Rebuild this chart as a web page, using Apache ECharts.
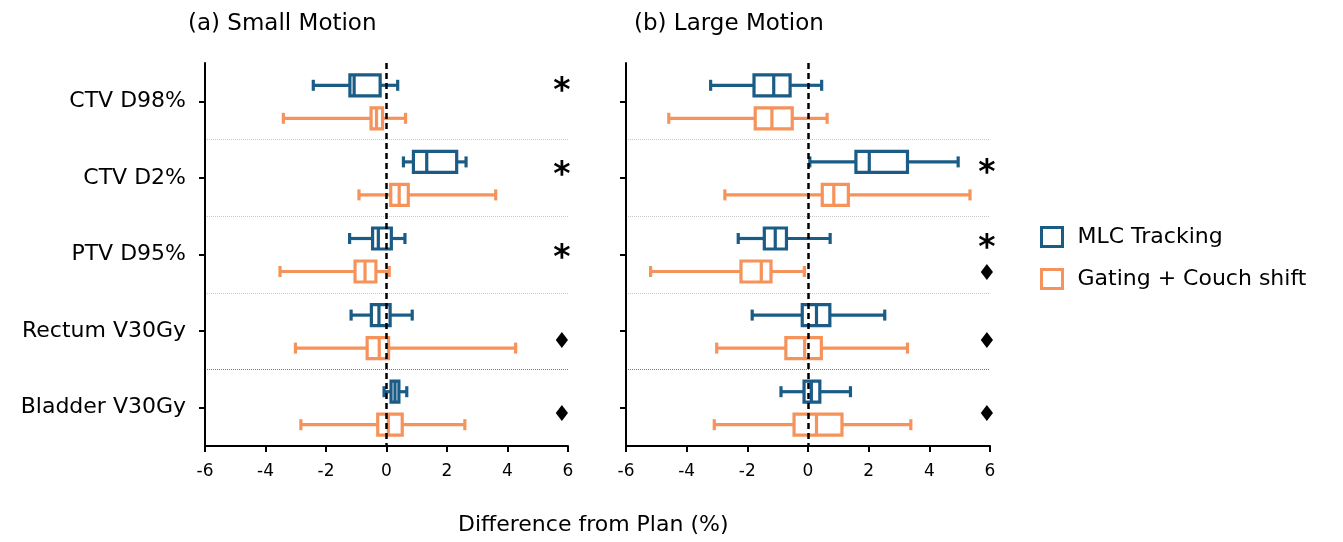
<!DOCTYPE html>
<html><head><meta charset="utf-8">
<script src="https://cdn.jsdelivr.net/npm/echarts@6/dist/echarts.min.js"></script>
<style>html,body{margin:0;padding:0;background:#fff}#c{width:1343px;height:542px}</style>
</head><body><div id="c"></div><script>
// ---------- data ----------
const categories = ['CTV D98%', 'CTV D2%', 'PTV D95%', 'Rectum V30Gy', 'Bladder V30Gy'];
const panelTitles = ['(a) Small Motion', '(b) Large Motion'];
const seriesNames = ['MLC Tracking', 'Gating + Couch shift'];
const xAxisTitle = 'Difference from Plan (%)';
// each row: [min, Q1, median, Q3, max]
const smallMLC = [
  [-2.42, -1.21, -1.07, -0.21, 0.37],
  [0.56, 0.89, 1.33, 2.32, 2.63],
  [-1.22, -0.46, -0.27, 0.16, 0.61],
  [-1.17, -0.50, -0.25, 0.12, 0.85],
  [-0.08, 0.15, 0.28, 0.41, 0.67]
];
const smallGating = [
  [-3.41, -0.51, -0.33, -0.13, 0.63],
  [-0.91, 0.14, 0.42, 0.72, 3.61],
  [-3.52, -1.04, -0.71, -0.35, 0.09],
  [-3.01, -0.64, -0.24, 0.07, 4.27],
  [-2.83, -0.29, 0.06, 0.52, 2.59]
];
const largeMLC = [
  [-3.21, -1.78, -1.13, -0.59, 0.45],
  [0.06, 1.58, 2.02, 3.28, 4.95],
  [-2.30, -1.44, -1.08, -0.71, 0.73],
  [-1.84, -0.19, 0.28, 0.72, 2.53],
  [-0.89, -0.13, 0.11, 0.39, 1.40]
];
const largeGating = [
  [-4.59, -1.74, -1.19, -0.52, 0.63],
  [-2.74, 0.47, 0.85, 1.33, 5.34],
  [-5.19, -2.21, -1.54, -1.22, -0.12],
  [-3.01, -0.73, -0.11, 0.44, 3.28],
  [-3.09, -0.46, 0.28, 1.12, 3.39]
];
// significance markers: [category index, symbol]
const sigSmall = [[0, '*'], [1, '*'], [2, '*'], [3, '♦'], [4, '♦']];
const sigLarge = [[1, '*'], [2, '*'], [2, '♦'], [3, '♦'], [4, '♦']];

// ---------- layout / style ----------
const FONT = 'DejaVu Sans';
const BLUE = '#1a5c85';
const ORANGE = '#f5935b';
const sigSmallDy = [-16, -8, -2, 8, 5];
const sigLargeDy = [-10, -12, 17, 8, 5];
const markerX = 5.8;

function boxRenderer(color, offset) {
  return function (params, api) {
    const cat = api.value(0);
    const px = (v) => api.coord([v, cat])[0];
    const yc = api.coord([0, cat])[1] + offset;
    const xMin = px(api.value(1)), xQ1 = px(api.value(2)), xMed = px(api.value(3)),
          xQ3 = px(api.value(4)), xMax = px(api.value(5));
    const hb = 10.5, hc = 5.5;
    const ls = { stroke: color, lineWidth: 3.2, fill: null };
    return { type: 'group', children: [
      { type: 'line', shape: { x1: xMin, y1: yc, x2: xQ1, y2: yc }, style: ls },
      { type: 'line', shape: { x1: xQ3, y1: yc, x2: xMax, y2: yc }, style: ls },
      { type: 'line', shape: { x1: xMin, y1: yc - hc, x2: xMin, y2: yc + hc }, style: ls },
      { type: 'line', shape: { x1: xMax, y1: yc - hc, x2: xMax, y2: yc + hc }, style: ls },
      { type: 'rect', shape: { x: xQ1, y: yc - hb, width: xQ3 - xQ1, height: 2 * hb }, style: { stroke: color, lineWidth: 3.2, fill: null } },
      { type: 'line', shape: { x1: xMed, y1: yc - hb, x2: xMed, y2: yc + hb }, style: ls }
    ]};
  };
}
const markerSyms = { sigS: sigSmall.map(d => d[1]), sigL: sigLarge.map(d => d[1]) };
function markerRenderer(dys) {
  return function (params, api) {
    const cat = api.value(0);
    const p = api.coord([api.value(1), cat]);
    const sym = markerSyms[params.seriesName][params.dataIndex];
    const isStar = sym === '*';
    const dy = dys[params.dataIndex] + (isStar ? 7 : 3);
    return { type: 'text', x: p[0], y: p[1] + dy, style: {
      text: sym, fill: '#000', align: 'center', verticalAlign: 'middle',
      font: (isStar ? 'bold 33px ' : '22px ') + '"DejaVu Sans"'
    }};
  };
}

function boxData(arr) { return arr.map((d, i) => [i].concat(d)); }

const grids = [
  { left: 205, top: 63, width: 363, height: 383 },
  { left: 626, top: 63, width: 364, height: 383 }
];
function xAx(gi) {
  return { gridIndex: gi, type: 'value', min: -6, max: 6, interval: 2,
    axisLine: { show: true, onZero: false, lineStyle: { color: '#000', width: 2 } },
    axisTick: { show: true, length: 6, lineStyle: { color: '#000', width: 2 } },
    axisLabel: { color: '#000', fontSize: 17, margin: 17, fontFamily: FONT },
    splitLine: { show: false } };
}
function yAx(gi, showLabel) {
  return { gridIndex: gi, type: 'category', data: categories, inverse: true,
    axisLine: { show: true, onZero: false, lineStyle: { color: '#000', width: 2 } },
    axisTick: { show: true, alignWithLabel: true, length: 6, lineStyle: { color: '#000', width: 2 } },
    axisLabel: { show: showLabel, color: '#000', fontSize: 22, margin: 19, fontFamily: FONT },
    splitLine: { show: true, showMinLine: false, showMaxLine: false,
      lineStyle: { type: 'dotted', width: 1, color: ['#c8c8c8', '#c8c8c8', '#c8c8c8', '#777777'] } } };
}
const zeroLine = { silent: true, symbol: 'none', label: { show: false },
  lineStyle: { color: '#000', type: [6, 4], width: 2.5 }, data: [{ xAxis: 0 }] };

const option = {
  animation: false,
  backgroundColor: '#fff',
  title: [
    { text: panelTitles[0], left: 183, top: 8, textStyle: { fontSize: 23, fontWeight: 'normal', color: '#000', fontFamily: FONT } },
    { text: panelTitles[1], left: 629, top: 8, textStyle: { fontSize: 23, fontWeight: 'normal', color: '#000', fontFamily: FONT } },
    { text: xAxisTitle, left: 453, top: 509, textStyle: { fontSize: 22, fontWeight: 'normal', color: '#000', fontFamily: FONT } }
  ],
  legend: {
    orient: 'vertical', left: 1035, top: 221, itemWidth: 21, itemHeight: 19, itemGap: 20,
    textStyle: { fontSize: 22, color: '#000', fontFamily: FONT, padding: [0, 0, 0, 10] },
    data: [
      { name: seriesNames[0], icon: 'rect', itemStyle: { color: '#fff', borderColor: BLUE, borderWidth: 3 } },
      { name: seriesNames[1], icon: 'rect', itemStyle: { color: '#fff', borderColor: ORANGE, borderWidth: 3 } }
    ]
  },
  grid: grids,
  xAxis: [xAx(0), xAx(1)],
  yAxis: [yAx(0, true), yAx(1, false)],
  series: [
    { type: 'custom', name: seriesNames[0], xAxisIndex: 0, yAxisIndex: 0, itemStyle: { color: BLUE },
      renderItem: boxRenderer(BLUE, -16), encode: { x: [1, 2, 3, 4, 5], y: 0 }, data: boxData(smallMLC), markLine: zeroLine, z: 3 },
    { type: 'custom', name: seriesNames[1], xAxisIndex: 0, yAxisIndex: 0, itemStyle: { color: ORANGE },
      renderItem: boxRenderer(ORANGE, 17), encode: { x: [1, 2, 3, 4, 5], y: 0 }, data: boxData(smallGating), z: 2 },
    { type: 'custom', name: seriesNames[0], xAxisIndex: 1, yAxisIndex: 1, itemStyle: { color: BLUE },
      renderItem: boxRenderer(BLUE, -16), encode: { x: [1, 2, 3, 4, 5], y: 0 }, data: boxData(largeMLC), markLine: zeroLine, z: 3 },
    { type: 'custom', name: seriesNames[1], xAxisIndex: 1, yAxisIndex: 1, itemStyle: { color: ORANGE },
      renderItem: boxRenderer(ORANGE, 17), encode: { x: [1, 2, 3, 4, 5], y: 0 }, data: boxData(largeGating), z: 2 },
    { type: 'custom', name: 'sigS', xAxisIndex: 0, yAxisIndex: 0, renderItem: markerRenderer(sigSmallDy),
      encode: { x: 1, y: 0 }, data: sigSmall.map(d => [d[0], markerX]) },
    { type: 'custom', name: 'sigL', xAxisIndex: 1, yAxisIndex: 1, renderItem: markerRenderer(sigLargeDy),
      encode: { x: 1, y: 0 }, data: sigLarge.map(d => [d[0], markerX + 0.1]) }
  ]
};
const chart = echarts.init(document.getElementById('c'), null, { renderer: 'canvas' });
chart.setOption(option);
</script></body></html>
